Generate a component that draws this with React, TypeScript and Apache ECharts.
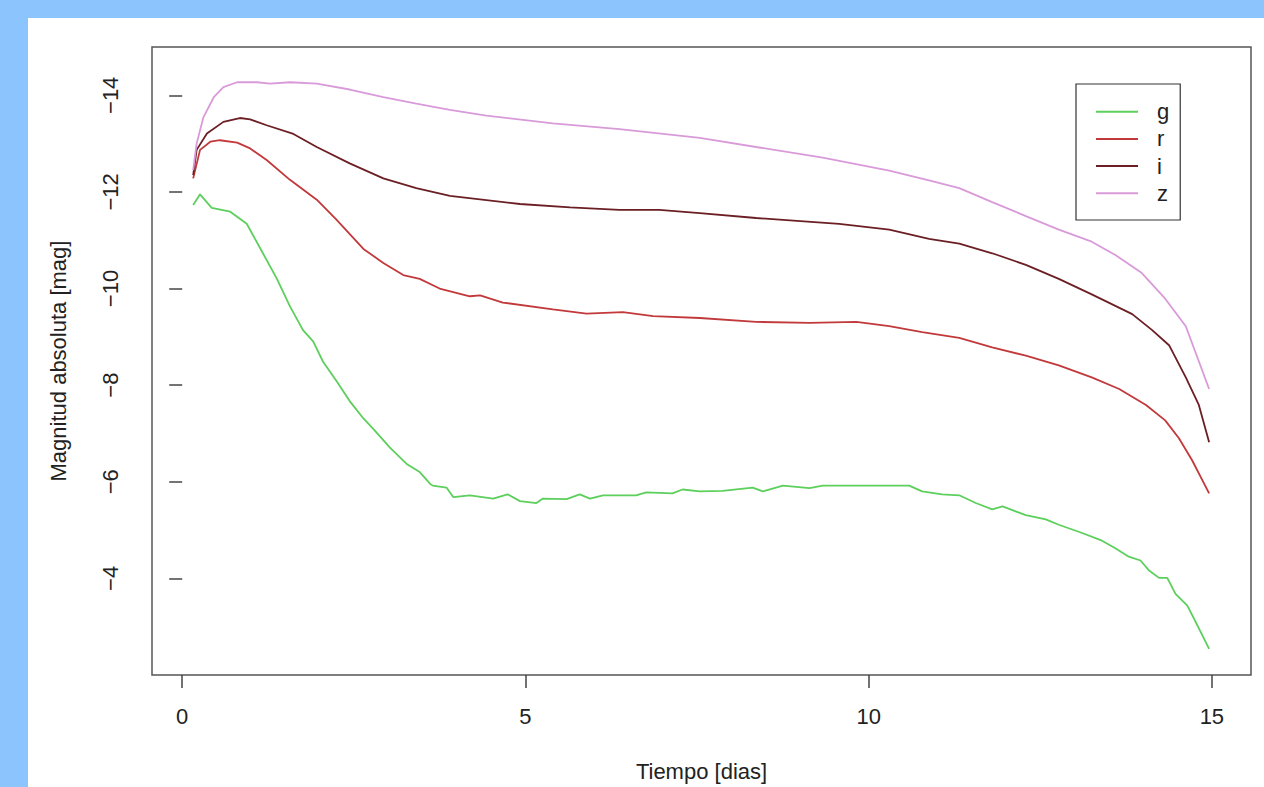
import React, { useEffect, useRef } from "react";
import * as echarts from "echarts";

const xTicks = [0, 5, 10, 15];
const yTicks = [-14, -12, -10, -8, -6, -4];
const bandNames = ["g", "r", "i", "z"];
const bandColors = ["#5ccf5c", "#c2393b", "#6b1f24", "#d99ad9"];

const gDays = [0.16, 0.26, 0.43, 0.70, 0.94, 1.13, 1.38, 1.57, 1.76, 1.91, 2.05, 2.25, 2.44, 2.64, 2.78, 3.03, 3.27, 3.46, 3.61, 3.65, 3.85, 3.95, 4.19, 4.53, 4.74, 4.92, 5.16, 5.25, 5.60, 5.79, 5.94, 6.13, 6.61, 6.76, 7.14, 7.29, 7.54, 7.87, 8.31, 8.46, 8.75, 9.14, 9.33, 9.62, 10.59, 10.78, 11.07, 11.32, 11.56, 11.80, 11.95, 12.29, 12.58, 12.77, 13.11, 13.40, 13.60, 13.79, 13.96, 14.08, 14.23, 14.35, 14.47, 14.64, 14.76, 14.96];
const gMag = [-11.73, -11.95, -11.67, -11.59, -11.34, -10.85, -10.2, -9.63, -9.14, -8.9, -8.49, -8.08, -7.67, -7.31, -7.1, -6.70, -6.37, -6.2, -5.96, -5.92, -5.88, -5.68, -5.72, -5.65, -5.74, -5.60, -5.56, -5.65, -5.64, -5.74, -5.65, -5.72, -5.72, -5.78, -5.76, -5.84, -5.8, -5.81, -5.88, -5.8, -5.92, -5.87, -5.92, -5.92, -5.92, -5.8, -5.74, -5.72, -5.56, -5.43, -5.49, -5.31, -5.22, -5.11, -4.94, -4.78, -4.62, -4.45, -4.37, -4.17, -4.01, -4.01, -3.68, -3.44, -3.11, -2.54];

const rDays = [0.16, 0.26, 0.41, 0.55, 0.80, 0.99, 1.23, 1.57, 1.96, 2.25, 2.64, 2.93, 3.22, 3.46, 3.75, 4.19, 4.34, 4.67, 5.40, 5.89, 6.42, 6.86, 7.54, 8.36, 9.14, 9.82, 10.30, 10.78, 11.32, 11.80, 12.29, 12.77, 13.25, 13.65, 14.04, 14.32, 14.52, 14.71, 14.96];
const rMag = [-12.28, -12.87, -13.04, -13.07, -13.02, -12.90, -12.66, -12.25, -11.84, -11.42, -10.82, -10.53, -10.28, -10.2, -10.0, -9.84, -9.86, -9.71, -9.57, -9.48, -9.51, -9.43, -9.39, -9.31, -9.29, -9.31, -9.22, -9.10, -8.98, -8.78, -8.61, -8.41, -8.16, -7.92, -7.59, -7.27, -6.90, -6.45, -5.76];

const iDays = [0.16, 0.21, 0.36, 0.60, 0.84, 0.99, 1.23, 1.62, 1.96, 2.44, 2.93, 3.41, 3.90, 4.92, 5.65, 6.37, 6.95, 7.54, 8.36, 9.57, 10.30, 10.88, 11.32, 11.80, 12.29, 12.77, 13.25, 13.84, 14.13, 14.38, 14.62, 14.81, 14.96];
const iMag = [-12.35, -12.87, -13.21, -13.45, -13.53, -13.5, -13.38, -13.2, -12.93, -12.59, -12.28, -12.08, -11.92, -11.75, -11.68, -11.63, -11.63, -11.56, -11.46, -11.34, -11.22, -11.03, -10.93, -10.73, -10.49, -10.2, -9.88, -9.47, -9.14, -8.82, -8.16, -7.59, -6.82];

const zDays = [0.16, 0.21, 0.31, 0.46, 0.60, 0.80, 1.09, 1.28, 1.57, 1.96, 2.44, 2.93, 3.41, 3.90, 4.43, 5.40, 6.37, 7.54, 8.36, 9.33, 10.30, 10.88, 11.32, 11.80, 12.29, 12.77, 13.25, 13.60, 13.98, 14.32, 14.62, 14.96];
const zMag = [-12.45, -13.0, -13.55, -13.96, -14.17, -14.27, -14.27, -14.24, -14.27, -14.24, -14.12, -13.96, -13.83, -13.7, -13.58, -13.42, -13.3, -13.12, -12.93, -12.71, -12.44, -12.24, -12.08, -11.79, -11.5, -11.22, -10.97, -10.69, -10.32, -9.79, -9.22, -7.92];

const FONT = "'Liberation Sans', Arial, Helvetica, sans-serif";

function pairs(xs: number[], ys: number[]) {
  return xs.map((x, k) => [x, ys[k]]);
}

export default function App() {
  const ref = useRef<HTMLDivElement>(null);
  useEffect(() => {
    const chart = echarts.init(ref.current!, null, { renderer: "svg" });
    const dataSets = [pairs(gDays, gMag), pairs(rDays, rMag), pairs(iDays, iMag), pairs(zDays, zMag)];
    chart.setOption({
      animation: false,
      backgroundColor: "transparent",
      textStyle: { fontFamily: FONT },
      grid: {
        left: 152,
        top: 47,
        right: 13,
        bottom: 110,
        show: true,
        borderColor: "#555",
        borderWidth: 1.5,
        backgroundColor: "transparent",
      },
      xAxis: {
        type: "value",
        min: -0.44,
        max: 15.57,
        name: "Tiempo [dias]",
        nameLocation: "middle",
        nameGap: 85,
        nameTextStyle: { fontSize: 22, color: "#222", fontFamily: FONT },
        axisLine: { show: false },
        splitLine: { show: false },
        axisTick: { show: true, length: 13, customValues: xTicks, lineStyle: { color: "#444", width: 1.5 } },
        axisLabel: { customValues: xTicks, fontSize: 22, color: "#222", margin: 30, fontFamily: FONT },
      },
      yAxis: {
        type: "value",
        inverse: true,
        min: -15,
        max: -2,
        name: "Magnitud absoluta [mag]",
        nameLocation: "middle",
        nameGap: 83,
        nameRotate: 90,
        nameTextStyle: { fontSize: 22, color: "#222", fontFamily: FONT },
        axisLine: { show: false },
        splitLine: { show: false },
        axisTick: { show: true, length: 13, customValues: yTicks, lineStyle: { color: "#444", width: 1.5 } },
        axisLabel: {
          customValues: yTicks,
          rotate: 90,
          fontSize: 22,
          color: "#222",
          margin: 31,
          fontFamily: FONT,
          formatter: (v: number) => String(v).replace("-", "\u2212"),
        },
      },
      legend: {
        show: true,
        orient: "vertical",
        left: 1076,
        top: 84,
        padding: [16.7, 11, 15.7, 20],
        itemGap: 5.2,
        itemWidth: 42,
        itemHeight: 2,
        icon: "rect",
        borderColor: "#333",
        borderWidth: 1.2,
        backgroundColor: "#fff",
        data: bandNames,
        textStyle: { fontSize: 22, lineHeight: 22, color: "#222", padding: [0, 0, 0, 14], fontFamily: FONT },
      },
      series: bandNames.map((name, k) => ({
        name,
        type: "line",
        data: dataSets[k],
        symbol: "none",
        showSymbol: false,
        smooth: false,
        lineStyle: { color: bandColors[k], width: 1.8 },
        itemStyle: { color: bandColors[k] },
        emphasis: { disabled: true },
      })),
    });
    return () => chart.dispose();
  }, []);
  return (
    <div style={{ position: "fixed", left: 0, top: 0, width: 1264, height: 787, background: "#8cc4fe" }}>
      <div style={{ position: "absolute", left: 28, top: 18, width: 1236, height: 769, background: "#ffffff" }} />
      <div ref={ref} style={{ position: "absolute", left: 0, top: 0, width: 1264, height: 787 }} />
    </div>
  );
}
